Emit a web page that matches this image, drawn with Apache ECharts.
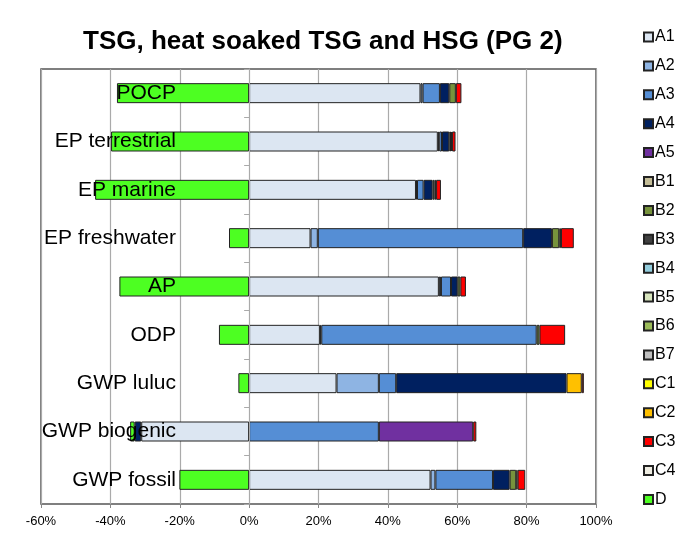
<!DOCTYPE html>
<html>
<head>
<meta charset="utf-8">
<script src="https://cdn.jsdelivr.net/npm/echarts@6/dist/echarts.min.js"></script>
<style>
  html, body { margin: 0; padding: 0; background: #fff; }
  #main { width: 678px; height: 536px; }
</style>
</head>
<body>
<div id="main"></div>
<script>
// categories, bottom to top
var categories = ['GWP fossil', 'GWP biogenic', 'GWP luluc', 'ODP', 'AP', 'EP freshwater', 'EP marine', 'EP terrestrial', 'POCP'];
var xTicks = [-60, -40, -20, 0, 20, 40, 60, 80, 100];

// shares in %, one value per category (same order as above)
var A1 = [52.3, -31.1, 25.2, 20.4, 54.7, 17.7, 48.1, 54.4, 49.4];
var A2 = [1.4, 0, 12.2, 0.4, 0.6, 2.1, 0.3, 0.4, 0.6];
var A3 = [16.6, 37.4, 5.0, 62.1, 2.9, 59.2, 1.9, 0.8, 5.0];
var A4 = [4.8, -1.9, 49.1, 0, 1.9, 8.3, 2.6, 2.1, 2.7];
var A5 = [0, 27.2, 0, 0, 0, 0, 0, 0, 0];
var B1 = [0, 0, 0, 0, 0, 0, 0, 0, 0];
var B2 = [1.9, 0, 0, 0.8, 0.8, 2.1, 0.5, 0.5, 1.9];
var B3 = [0, 0, 0, 0, 0, 0, 0.5, 0.3, 0];
var B4 = [0, 0, 0, 0, 0, 0, 0, 0, 0];
var B5 = [0, 0, 0, 0, 0, 0, 0, 0, 0];
var B6 = [0, 0, 0, 0, 0, 0, 0, 0, 0];
var B7 = [0, 0, 0, 0, 0, 0, 0, 0, 0];
var C1 = [0.4, 0, 0, 0, 0, 0, 0, 0, 0];
var C2 = [0, 0, 4.4, 0, 0, 0.5, 0, 0, 0];
var C3 = [2.2, 0.9, 0.6, 7.4, 1.6, 3.7, 1.4, 1.0, 1.6];
var C4 = [0, 0, 0, 0, 0, 0, 0, 0, 0];
var D  = [-20.1, -1.3, -3.1, -8.7, -37.4, -5.8, -44.4, -39.8, -38.1];

var seriesNames = ['A1', 'A2', 'A3', 'A4', 'A5', 'B1', 'B2', 'B3', 'B4', 'B5', 'B6', 'B7', 'C1', 'C2', 'C3', 'C4', 'D'];
var seriesData = [A1, A2, A3, A4, A5, B1, B2, B3, B4, B5, B6, B7, C1, C2, C3, C4, D];
var colors = ['#dce6f2', '#8eb4e3', '#558ed5', '#002060', '#7030a0', '#c4bd97', '#77933c', '#404040',
  '#93cddd', '#d7e4bd', '#9bbb59', '#bfbfbf', '#ffff00', '#ffc000', '#ff0000', '#eeece1', '#4dff22'];

var font = 'Liberation Sans, Arial, sans-serif';
var myChart = echarts.init(document.getElementById('main'));

var series = seriesNames.map(function (name, i) {
  return {
    name: name,
    type: 'bar',
    stack: 'total',
    barWidth: 20,
    itemStyle: { color: colors[i], borderColor: '#222', borderWidth: 1 },
    data: seriesData[i].map(function (v) { return v === 0 ? null : v; })
  };
});

var option = {
  animation: false,
  title: {
    text: 'TSG, heat soaked TSG and HSG (PG 2)',
    left: 78,
    top: 24,
    textStyle: { fontFamily: font, fontSize: 26, fontWeight: 'bold', color: '#000' }
  },
  legend: {
    orient: 'vertical',
    left: 638,
    top: 24,
    itemWidth: 9,
    itemHeight: 9,
    itemGap: 12.9,
    icon: 'rect',
    data: seriesNames,
    textStyle: { fontFamily: font, fontSize: 16, lineHeight: 16, color: '#000', padding: [0, 0, 0, -3] }
  },
  grid: {
    left: 41,
    right: 82,
    top: 69,
    bottom: 32,
    containLabel: false,
    outerBoundsMode: 'none',
    show: true,
    borderColor: '#555',
    borderWidth: 1.5
  },
  xAxis: {
    type: 'value',
    min: -60,
    max: 100,
    interval: 20,
    axisLine: { show: false },
    axisTick: { show: true, length: 4, lineStyle: { color: '#888' } },
    splitLine: { show: true, lineStyle: { color: '#aaa', width: 1.2 } },
    axisLabel: {
      formatter: '{value}%',
      fontFamily: font,
      fontSize: 13,
      color: '#000',
      margin: 11
    }
  },
  yAxis: {
    type: 'category',
    data: categories,
    z: 10,
    axisLine: { show: true, onZero: true, lineStyle: { color: '#aaa' } },
    axisTick: { show: true, length: 5, lineStyle: { color: '#aaa' } },
    axisLabel: {
      fontFamily: font,
      fontSize: 21,
      color: '#000',
      margin: -135
    }
  },
  series: series
};
myChart.setOption(option);
</script>
</body>
</html>
